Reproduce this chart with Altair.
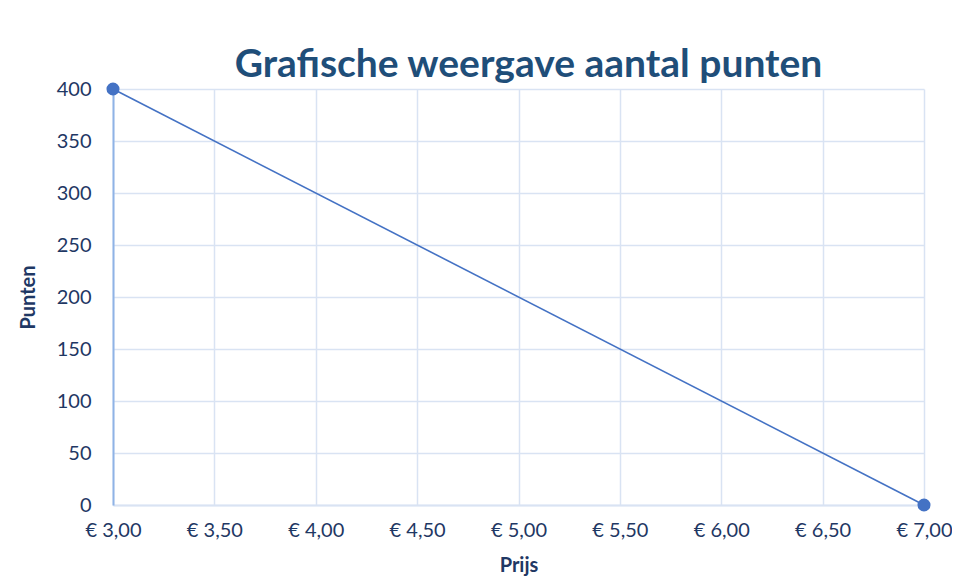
import altair as alt
import pandas as pd

prices = [3.0, 7.0]
points = [400, 0]
x_ticks = [3.0, 3.5, 4.0, 4.5, 5.0, 5.5, 6.0, 6.5, 7.0]
y_ticks = [0, 50, 100, 150, 200, 250, 300, 350, 400]

df = pd.DataFrame({"Prijs": prices, "Punten": points})

label_color = "#1F3864"
grid_color = "#D9E3F3"
line_color = "#4472C4"
font = "Lato"

x_enc = alt.X(
    "Prijs:Q",
    scale=alt.Scale(domain=[3, 7], nice=False, zero=False),
    axis=alt.Axis(
        values=x_ticks,
        labelExpr="'€ ' + replace(format(datum.value, '.2f'), '.', ',')",
        title="Prijs",
        ticks=False,
        labelFlush=False,
        domainColor=grid_color,
        domainWidth=2,
        labelPadding=15,
        titlePadding=15,
    ),
)
y_enc = alt.Y(
    "Punten:Q",
    scale=alt.Scale(domain=[0, 400], nice=False),
    axis=alt.Axis(
        values=y_ticks,
        title="Punten",
        ticks=False,
        labelFlush=False,
        domainColor="#8FB3E6",
        domainWidth=2,
        labelPadding=22,
        titlePadding=18,
    ),
)

line = alt.Chart(df).mark_line(color=line_color, strokeWidth=1.6).encode(x=x_enc, y=y_enc)
dots = alt.Chart(df).mark_circle(color=line_color, size=170, opacity=1).encode(x=x_enc, y=y_enc)

chart = (
    alt.layer(line, dots)
    .properties(
        width=811,
        height=416,
        title=alt.TitleParams(
            "Grafische weergave aantal punten",
            fontSize=39,
            font=font,
            fontWeight="bold",
            color="#1F4E79",
            anchor="middle",
            dx=10,
            offset=-6,
        ),
        autosize=alt.AutoSizeParams(type="none"),
        padding={"left": 105, "top": 81, "right": 28, "bottom": 72},
    )
    .configure_view(stroke=None)
    .configure_axis(
        gridColor=grid_color,
        gridWidth=1.5,
        labelFont=font,
        labelFontSize=20,
        labelColor=label_color,
        titleFont=font,
        titleFontSize=20,
        titleFontWeight="bold",
        titleColor=label_color,
    )
)

chart.save("out.html", embed_options={"renderer": "svg", "actions": False})
